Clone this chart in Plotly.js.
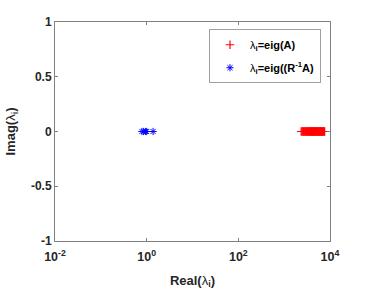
<!DOCTYPE html>
<html><head><meta charset="utf-8">
<script src="https://cdn.plot.ly/plotly-3.0.1.min.js"></script>
<style>html,body{margin:0;padding:0;background:#fff}</style>
</head><body>
<div id="chart" style="width:365px;height:292px"></div>
<script>
var eigA_real = [2350, 2450, 2550, 2650, 2750, 2850, 2950, 3050, 3150, 3250, 3350, 3450, 3550, 3650, 3750, 3850, 3950, 4050, 4150, 4250, 4350, 4450, 4550, 4650, 4800, 4950, 5100, 5250, 5400, 5550, 5700, 5850, 6000, 6150, 6300, 6450, 6600, 6800, 7000, 7200, 7400, 7650];
var eigA_imag = [0,0,0,0,0,0,0,0,0,0,0,0,0,0,0,0,0,0,0,0,0,0,0,0,0,0,0,0,0,0,0,0,0,0,0,0,0,0,0,0,0,0];
var eigRA_real = [0.79, 0.86, 0.95, 1.0, 1.38];
var eigRA_imag = [0, 0, 0, 0, 0];
var xTickVals = [0.01, 1, 100, 10000];
var xTickText = ['10<sup>-2</sup>', '10<sup>0</sup>', '10<sup>2</sup>', '10<sup>4</sup>'];
var yTickVals = [-1, -0.5, 0, 0.5, 1];
var yTickText = ['-1', '-0.5', '0', '0.5', '1'];

var fam = 'Liberation Sans, Arial, Helvetica, sans-serif';
var traces = [
  {x: eigA_real, y: eigA_imag, mode: 'markers', type: 'scatter', legendgroup: 'a',
   name: 'λ<sub><b>i</b></sub><b>=eig(A)</b>',
   marker: {symbol: 'cross-thin-open', size: 6, color: 'red', line: {color: 'red', width: 1.2}}},
  {x: eigRA_real, y: eigRA_imag, mode: 'markers', type: 'scatter', legendgroup: 'b',
   name: 'λ<sub><b>i</b></sub><b>=eig((R<sup>-1</sup>A)</b>',
   marker: {symbol: 'asterisk-open', size: 6, color: 'blue', line: {color: 'blue', width: 1}}}
];
var axColor = '#808080';
var layout = {
  width: 365, height: 292,
  margin: {l: 55, r: 35, t: 22, b: 51},
  paper_bgcolor: '#fff', plot_bgcolor: '#fff',
  font: {family: fam, color: '#262626', size: 11},
  showlegend: true,
  legend: {x: 0.56, y: 0.967, xanchor: 'left', yanchor: 'top',
           bgcolor: '#fff', bordercolor: '#a0a0a0', borderwidth: 1,
           font: {size: 11, color: '#000', family: fam}, tracegroupgap: 4, itemwidth: 30},
  xaxis: {type: 'log', range: [-2, 4], tickvals: xTickVals, ticktext: xTickText,
          ticks: 'inside', ticklen: 3, tickcolor: axColor, showline: true, linecolor: axColor,
          linewidth: 1, mirror: 'ticks', showgrid: false, zeroline: false, ticklabelstandoff: 4,
          tickfont: {size: 12.5, color: '#262626', family: fam, weight: 'bold'},
          title: {text: '<b>Real(</b>λ<sub><b>i</b></sub><b>)</b>', font: {size: 13, color: '#262626', family: fam}, standoff: 12}},
  yaxis: {range: [-1, 1], tickvals: yTickVals, ticktext: yTickText,
          ticks: 'inside', ticklen: 3, tickcolor: axColor, showline: true, linecolor: axColor,
          linewidth: 1, mirror: 'ticks', showgrid: false, zeroline: false,
          tickfont: {size: 12, color: '#262626', family: fam, weight: 'bold'},
          title: {text: '<b>Imag(</b>λ<sub><b>i</b></sub><b>)</b>', font: {size: 13, color: '#262626', family: fam}, standoff: 12}}
};
Plotly.newPlot('chart', traces, layout, {staticPlot: true, displayModeBar: false});
</script>
</body></html>
